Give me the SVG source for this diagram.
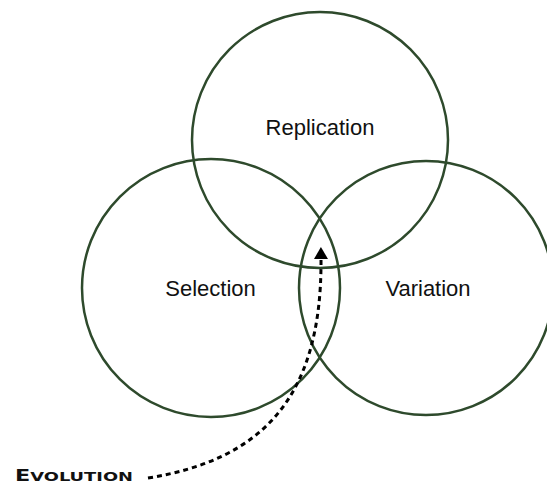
<svg xmlns="http://www.w3.org/2000/svg" width="547" height="483" viewBox="0 0 547 483">
  <style>
    .ring { fill: none; stroke: #2e4a2c; stroke-width: 2.5; }
    .label { font-family: "Liberation Sans", Arial, sans-serif; font-size: 22px; fill: #111; text-anchor: middle; }
    .evo { font-family: "DejaVu Sans", sans-serif; font-weight: bold; fill: #111; }
    .dash { fill: none; stroke: #000; stroke-width: 3; stroke-dasharray: 5 4; }
  </style>
  <defs>
    <marker id="arrow" markerUnits="userSpaceOnUse" markerWidth="14" markerHeight="16" refX="0" refY="7" orient="auto" overflow="visible">
      <path d="M0,0 L12,7 L0,14 z" fill="#000"/>
    </marker>
  </defs>
  <rect width="547" height="483" fill="#fff"/>
  <g id="replication">
    <circle class="ring" cx="320" cy="140" r="128"/>
    <text class="label" x="320" y="135">Replication</text>
  </g>
  <g id="selection">
    <circle class="ring" cx="211" cy="288" r="129"/>
    <text class="label" x="210.5" y="296">Selection</text>
  </g>
  <g id="variation">
    <circle class="ring" cx="426" cy="288" r="127"/>
    <text class="label" x="428" y="296">Variation</text>
  </g>
  <g id="evolution">
    <text class="evo" x="15" y="480.5" textLength="118" lengthAdjust="spacingAndGlyphs"><tspan font-size="16">E</tspan><tspan font-size="12.8">VOLUTION</tspan></text>
  </g>
  <g id="connectors">
    <path class="dash" d="M148 478 C260 460 322 400 321 259" marker-end="url(#arrow)"/>
  </g>
</svg>
